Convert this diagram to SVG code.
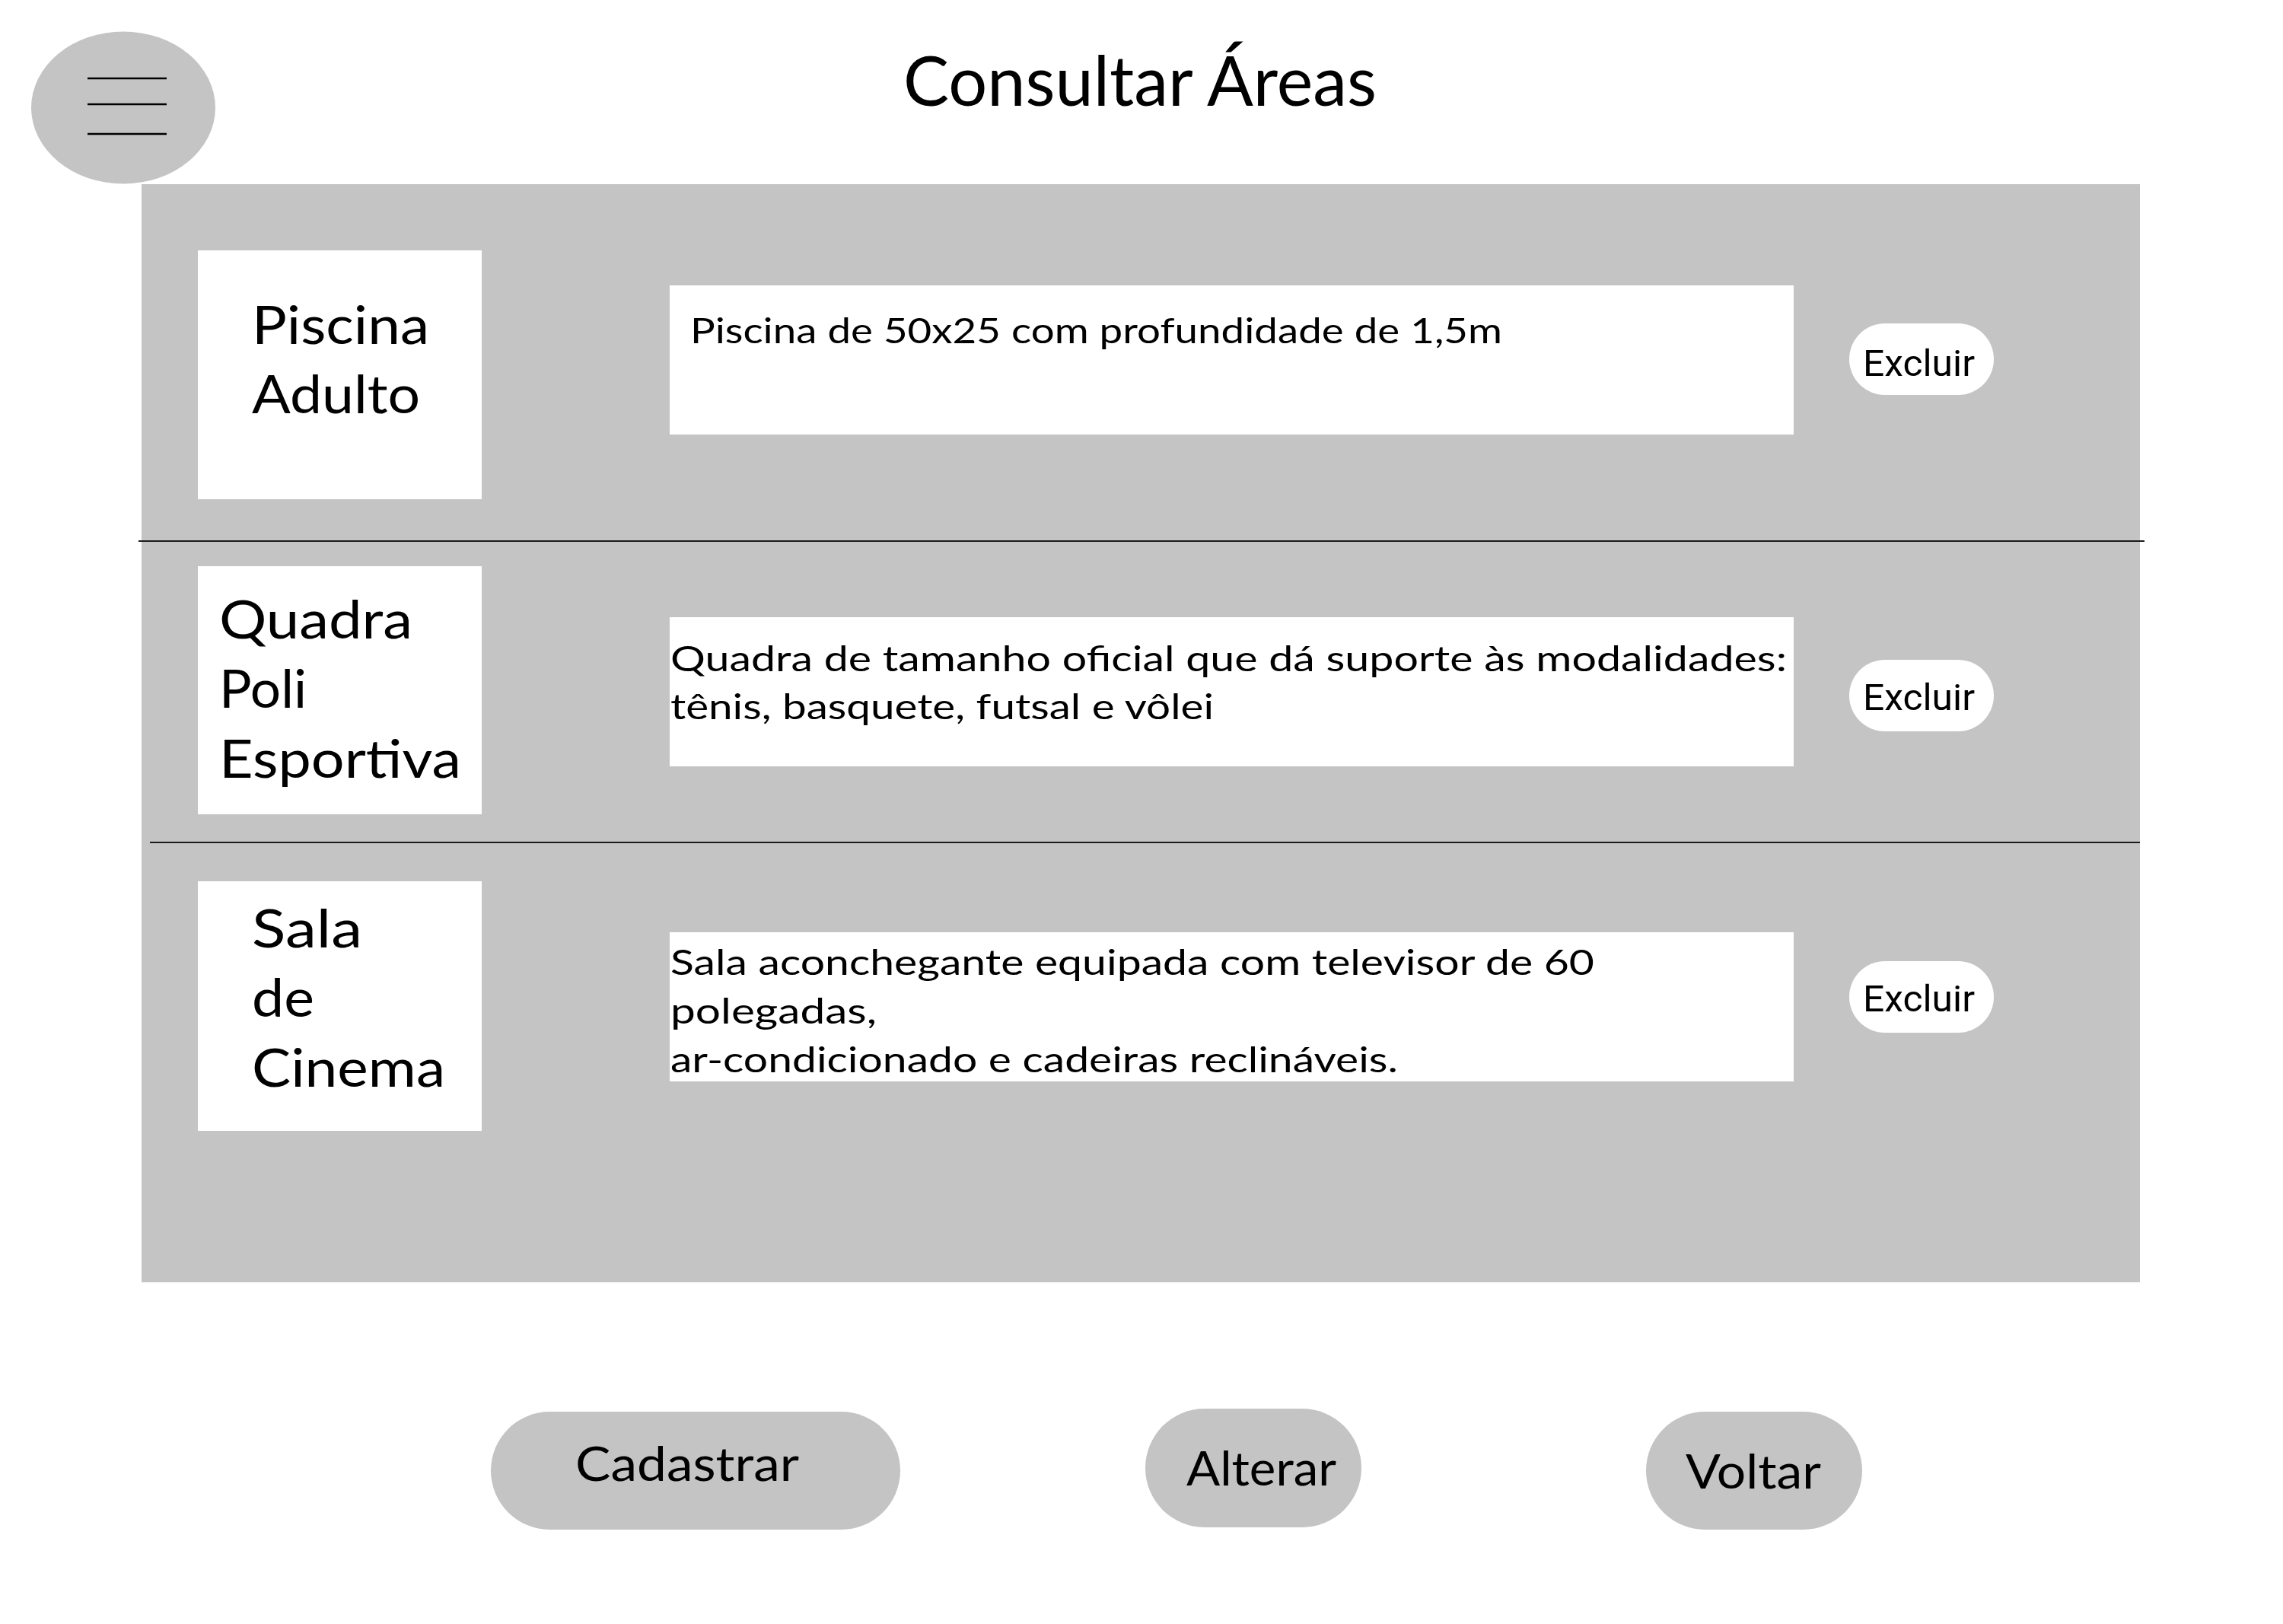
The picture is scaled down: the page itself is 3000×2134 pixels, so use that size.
<svg xmlns="http://www.w3.org/2000/svg" width="3000" height="2134" viewBox="0 0 3000 2134">
<style>
.q{font-family:"Lato","Noto Sans","DejaVu Sans",sans-serif;fill:#000}
.t{font-size:92px}
.n{font-size:70px}
.d{font-size:47px}
.b{font-size:62px}
.x{font-family:"Roboto","Liberation Sans",sans-serif;font-size:48px;fill:#000}
.g{fill:#C4C4C4}
.w{fill:#FFFFFF}
.sep{stroke:#1a1a1a;stroke-width:2;fill:none}
.ham{stroke:#000;stroke-width:2.5}
</style>
<rect width="3000" height="2134" fill="#FFFFFF"/>
<g id="title"><text class="q t" x="1187" y="139" textLength="622" lengthAdjust="spacingAndGlyphs">Consultar Áreas</text></g>
<g id="menu">
<ellipse class="g" cx="162" cy="141.5" rx="121" ry="100"/>
<line class="ham" x1="115" y1="103" x2="219" y2="103"/>
<line class="ham" x1="115" y1="137" x2="219" y2="137"/>
<line class="ham" x1="115" y1="176" x2="219" y2="176"/>
</g>
<g id="panel"><rect class="g" x="186" y="242" width="2626" height="1443"/></g>
<g id="separators">
<line class="sep" x1="182" y1="711" x2="2818" y2="711"/>
<line class="sep" x1="197" y1="1107" x2="2812" y2="1107"/>
</g>
<g id="item1">
<rect class="w" x="260" y="329" width="373" height="327"/>
<text class="q n" x="331" y="452" textLength="233" lengthAdjust="spacingAndGlyphs">Piscina</text>
<text class="q n" x="331" y="543" textLength="221" lengthAdjust="spacingAndGlyphs">Adulto</text>
<rect class="w" x="880" y="375" width="1477" height="196"/>
<text class="q d" x="907" y="451" textLength="1067" lengthAdjust="spacingAndGlyphs">Piscina de 50x25 com profundidade de 1,5m</text>
<g id="excluir1"><rect class="w" x="2430" y="425" width="190" height="94" rx="47"/>
<text class="x" x="2448" y="494" textLength="147" lengthAdjust="spacingAndGlyphs">Excluir</text></g>
</g>
<g id="item2">
<rect class="w" x="260" y="744" width="373" height="326"/>
<text class="q n" x="288" y="839" textLength="254" lengthAdjust="spacingAndGlyphs">Quadra</text>
<text class="q n" x="288" y="930" textLength="115" lengthAdjust="spacingAndGlyphs">Poli</text>
<text class="q n" x="288" y="1022" textLength="318" lengthAdjust="spacingAndGlyphs">Esportiva</text>
<rect class="w" x="880" y="811" width="1477" height="196"/>
<text class="q d" x="881" y="882" textLength="1467" lengthAdjust="spacingAndGlyphs">Quadra de tamanho oficial que dá suporte às modalidades:</text>
<text class="q d" x="881" y="945" textLength="714" lengthAdjust="spacingAndGlyphs">tênis, basquete, futsal e vôlei</text>
<g id="excluir2"><rect class="w" x="2430" y="867" width="190" height="94" rx="47"/>
<text class="x" x="2448" y="933" textLength="147" lengthAdjust="spacingAndGlyphs">Excluir</text></g>
</g>
<g id="item3">
<rect class="w" x="260" y="1158" width="373" height="328"/>
<text class="q n" x="331" y="1245" textLength="145" lengthAdjust="spacingAndGlyphs">Sala</text>
<text class="q n" x="331" y="1336" textLength="82" lengthAdjust="spacingAndGlyphs">de</text>
<text class="q n" x="331" y="1428" textLength="254" lengthAdjust="spacingAndGlyphs">Cinema</text>
<rect class="w" x="880" y="1225" width="1477" height="196"/>
<text class="q d" x="881" y="1281" textLength="1214" lengthAdjust="spacingAndGlyphs">Sala aconchegante equipada com televisor de 60</text>
<text class="q d" x="881" y="1345" textLength="271" lengthAdjust="spacingAndGlyphs">polegadas,</text>
<text class="q d" x="881" y="1409" textLength="956" lengthAdjust="spacingAndGlyphs">ar-condicionado e cadeiras reclináveis.</text>
<g id="excluir3"><rect class="w" x="2430" y="1263" width="190" height="94" rx="47"/>
<text class="x" x="2448" y="1329" textLength="147" lengthAdjust="spacingAndGlyphs">Excluir</text></g>
</g>
<g id="btn-cadastrar"><rect class="g" x="645" y="1855" width="538" height="155" rx="77.5"/>
<text class="q b" x="756" y="1946" textLength="294" lengthAdjust="spacingAndGlyphs">Cadastrar</text></g>
<g id="btn-alterar"><rect class="g" x="1505" y="1851" width="284" height="156" rx="78"/>
<text class="q b" x="1559" y="1952" textLength="197" lengthAdjust="spacingAndGlyphs">Alterar</text></g>
<g id="btn-voltar"><rect class="g" x="2163" y="1855" width="284" height="155" rx="77.5"/>
<text class="q b" x="2215" y="1956" textLength="178" lengthAdjust="spacingAndGlyphs">Voltar</text></g>
</svg>
